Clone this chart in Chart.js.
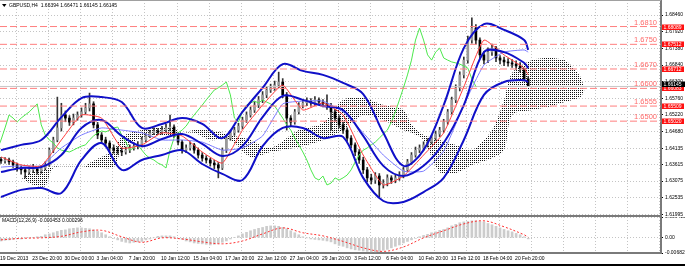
<!DOCTYPE html>
<html><head><meta charset="utf-8">
<script src="https://cdn.jsdelivr.net/npm/chart.js@4.4.1/dist/chart.umd.min.js"></script>
<style>
html,body{margin:0;padding:0;background:#fff;width:685px;height:266px;overflow:hidden;position:relative;}
#main{position:absolute;left:0;top:0;}
#macd{position:absolute;left:0;top:217px;}
#bot{position:absolute;left:0;top:264px;width:685px;height:2px;background:#000;}
#topl{position:absolute;left:0;top:0;width:661px;height:1px;background:#a0a0a0;}
</style></head><body>
<canvas id="main" width="685" height="217"></canvas>
<canvas id="macd" width="685" height="49"></canvas>
<div id="topl"></div><div id="bot"></div>
<script>
// ---------- DATA ----------
const titleText = 'GBPUSD,H4  1.66394 1.66471 1.66145 1.66145';
const macdTitle = 'MACD(12,26,9) -0.000453 0.000296';
const tickLabels = ['19 Dec 2013','23 Dec 20:00','30 Dec 00:00','3 Jan 04:00','7 Jan 20:00','10 Jan 12:00','15 Jan 04:00','17 Jan 20:00','22 Jan 12:00','27 Jan 04:00','29 Jan 20:00','3 Feb 12:00','6 Feb 04:00','10 Feb 20:00','13 Feb 12:00','18 Feb 04:00','20 Feb 20:00'];
const priceTicks = [1.68460,1.67920,1.67380,1.66840,1.66300,1.65760,1.65220,1.64680,1.64135,1.63615,1.63075,1.62535,1.61995];
const macdTicks = [0.009413,0,-0.006825];
const levels = [1.68089,1.67512,1.66712,1.66083,1.65509,1.65020];
const levelText = ['1.6810','1.6750','1.6670','1.6600','1.6555','1.6500'];
const bidPrice = 1.66145;
const firstOpen = 1.6378;

const close = [1.6373,1.6376,1.6370,1.6360,1.6350,1.6344,1.6337,1.6344,1.6347,1.6340,
1.6350,1.6360,1.6408,1.6441,1.6480,1.6522,1.6512,1.6499,1.6512,1.6522,
1.6532,1.6545,1.6558,1.6490,1.6457,1.6441,1.6431,1.6415,1.6408,1.6405,
1.6402,1.6408,1.6415,1.6421,1.6425,1.6441,1.6454,1.6464,1.6470,1.6467,
1.6473,1.6480,1.6483,1.6457,1.6434,1.6408,1.6415,1.6425,1.6408,1.6392,
1.6382,1.6376,1.6366,1.6360,1.6350,1.6408,1.6447,1.6464,1.6473,1.6486,
1.6506,1.6522,1.6538,1.6554,1.6571,1.6587,1.6603,1.6610,1.6619,1.6629,
1.6587,1.6512,1.6499,1.6532,1.6554,1.6561,1.6567,1.6561,1.6571,1.6564,
1.6558,1.6551,1.6532,1.6512,1.6490,1.6473,1.6447,1.6425,1.6402,1.6376,
1.6344,1.6318,1.6311,1.6324,1.6295,1.6301,1.6318,1.6311,1.6318,1.6327,
1.6344,1.6370,1.6392,1.6408,1.6415,1.6425,1.6434,1.6447,1.6460,1.6473,
1.6499,1.6532,1.6571,1.6610,1.6652,1.6700,1.6765,1.6804,1.6765,1.6717,
1.6700,1.6726,1.6739,1.6707,1.6700,1.6694,1.6691,1.6687,1.6681,1.6674,
1.6639,1.66145];
const high = [1.6385,1.6384,1.6382,1.6376,1.6366,1.6356,1.6352,1.6355,1.6362,1.6352,
1.6358,1.6370,1.6415,1.6450,1.6580,1.6560,1.6535,1.6520,1.6525,1.6532,
1.6545,1.6560,1.6593,1.6565,1.6498,1.6465,1.6450,1.6438,1.6425,1.6418,
1.6415,1.6418,1.6425,1.6432,1.6436,1.6450,1.6462,1.6472,1.6480,1.6478,
1.6485,1.6492,1.6522,1.6490,1.6462,1.6440,1.6425,1.6435,1.6430,1.6415,
1.6400,1.6390,1.6382,1.6375,1.6368,1.6415,1.6455,1.6472,1.6482,1.6495,
1.6515,1.6532,1.6548,1.6565,1.6582,1.6598,1.6615,1.6622,1.6632,1.6661,
1.6640,1.6595,1.6520,1.6540,1.6562,1.6572,1.6578,1.6575,1.6582,1.6578,
1.6572,1.6587,1.6560,1.6540,1.6520,1.6498,1.6480,1.6455,1.6432,1.6410,
1.6385,1.6352,1.6330,1.6335,1.6332,1.6312,1.6328,1.6325,1.6328,1.6338,
1.6352,1.6378,1.6400,1.6418,1.6425,1.6435,1.6445,1.6456,1.6470,1.6482,
1.6508,1.6540,1.6580,1.6620,1.6662,1.6710,1.6778,1.6837,1.6815,1.6772,
1.6728,1.6740,1.6752,1.6745,1.6715,1.6710,1.6705,1.6702,1.6698,1.6692,
1.6668,1.66471];
const low = [1.6365,1.6366,1.6362,1.6352,1.6340,1.6330,1.6318,1.6330,1.6335,1.6330,
1.6333,1.6344,1.6355,1.6400,1.6435,1.6470,1.6500,1.6488,1.6490,1.6505,
1.6515,1.6525,1.6535,1.6480,1.6445,1.6430,1.6420,1.6405,1.6398,1.6395,
1.6390,1.6395,1.6400,1.6408,1.6412,1.6418,1.6435,1.6448,1.6458,1.6458,
1.6460,1.6466,1.6470,1.6448,1.6425,1.6398,1.6400,1.6408,1.6398,1.6382,
1.6372,1.6366,1.6356,1.6348,1.6318,1.6345,1.6400,1.6440,1.6456,1.6466,
1.6478,1.6498,1.6515,1.6530,1.6546,1.6562,1.6578,1.6595,1.6602,1.6610,
1.6578,1.6473,1.6485,1.6492,1.6525,1.6545,1.6552,1.6550,1.6552,1.6555,
1.6548,1.6540,1.6473,1.6502,1.6480,1.6462,1.6436,1.6415,1.6390,1.6365,
1.6332,1.6305,1.6298,1.6300,1.6256,1.6285,1.6292,1.6300,1.6302,1.6310,
1.6318,1.6338,1.6362,1.6385,1.6400,1.6408,1.6418,1.6428,1.6440,1.6452,
1.6466,1.6492,1.6525,1.6562,1.6600,1.6642,1.6690,1.6755,1.6752,1.6705,
1.6688,1.6692,1.6715,1.6695,1.6688,1.6682,1.6680,1.6676,1.6670,1.6662,
1.6632,1.66145];

// indicator lines sampled at these bar positions
const lineIdx = [0,5,10,15,20,25,30,35,40,45,50,55,60,65,70,75,80,85,90,95,100,105,110,115,120,125,130,131];
const bbUpper = [1.6408,1.6425,1.6441,1.6515,1.6577,1.6580,1.6564,1.6480,1.6493,1.6512,1.6493,1.6447,1.6532,1.6610,1.6687,1.6665,1.6652,1.6626,1.6590,1.6464,1.6357,1.6408,1.6554,1.6739,1.6817,1.6798,1.6765,1.6733];
const bbMiddle = [1.6337,1.6350,1.6353,1.6392,1.6480,1.6506,1.6454,1.6421,1.6444,1.6460,1.6428,1.6389,1.6421,1.6515,1.6584,1.6571,1.6551,1.6538,1.6454,1.6357,1.6324,1.6357,1.6431,1.6554,1.6726,1.6726,1.6691,1.6674];
const bbLower = [1.6256,1.6279,1.6285,1.6269,1.6376,1.6431,1.6344,1.6376,1.6392,1.6408,1.6363,1.6331,1.6311,1.6421,1.6480,1.6480,1.6447,1.6451,1.6318,1.6243,1.6240,1.6272,1.6318,1.6441,1.6587,1.6629,1.6635,1.6629];
const kijun = [1.6353,1.6357,1.6357,1.6415,1.6457,1.6480,1.6473,1.6464,1.6441,1.6441,1.6434,1.6408,1.6415,1.6454,1.6558,1.6567,1.6567,1.6532,1.6464,1.6392,1.6340,1.6340,1.6405,1.6554,1.6684,1.6726,1.6733,1.6726];
const tenkan = [1.6386,1.6360,1.6357,1.6441,1.6522,1.6512,1.6415,1.6425,1.6464,1.6454,1.6402,1.6366,1.6473,1.6554,1.6619,1.6538,1.6561,1.6522,1.6392,1.6295,1.6324,1.6392,1.6464,1.6613,1.6765,1.6717,1.6674,1.6652];

// Ichimoku cloud spans
const cloudIdx = [5,8,11,13,21,22,28,30,35,42,45,48,52,57,62,67,74,80,85,90,95,100,102,105,109,113,117,122,125,127,132,136,140,142,144,145];
const spanA = [1.6318,1.6337,1.6344,1.6355,1.6355,1.6366,1.6408,1.6451,1.6473,1.6483,1.6464,1.6473,1.6473,1.6457,1.6441,1.6415,1.6473,1.6496,1.6571,1.6577,1.6554,1.6538,1.6490,1.6457,1.6441,1.6425,1.6408,1.6473,1.6571,1.6658,1.6700,1.6707,1.6700,1.6678,1.6645,1.6603];
const spanB = [1.6318,1.6295,1.6292,1.6350,1.6350,1.6353,1.6353,1.6408,1.6447,1.6457,1.6464,1.6464,1.6441,1.6441,1.6386,1.6402,1.6418,1.6441,1.6473,1.6522,1.6506,1.6473,1.6464,1.6441,1.6337,1.6334,1.6360,1.6382,1.6408,1.6522,1.6538,1.6548,1.6564,1.6571,1.6580,1.6603];
const chikouShift = 13;

// MACD
const macdMain = [-0.0014,-0.0011,-0.0009,-0.0007,-0.0005,-0.0005,-0.0002,0.0000,0.0002,0.0005,
0.0007,0.0014,0.0018,0.0023,0.0029,0.0034,0.0036,0.0041,0.0043,0.0045,
0.0045,0.0043,0.0041,0.0036,0.0029,0.0023,0.0014,0.0005,-0.0002,-0.0009,
-0.0016,-0.0020,-0.0023,-0.0020,-0.0018,-0.0016,-0.0009,-0.0005,0.0000,0.0007,
0.0009,0.0009,0.0009,0.0005,-0.0002,-0.0007,-0.0014,-0.0018,-0.0023,-0.0025,
-0.0027,-0.0029,-0.0032,-0.0029,-0.0025,-0.0020,-0.0014,-0.0005,0.0002,0.0009,
0.0018,0.0025,0.0032,0.0038,0.0043,0.0047,0.0052,0.0054,0.0054,0.0052,
0.0047,0.0041,0.0032,0.0023,0.0014,0.0005,0.0000,-0.0005,-0.0007,-0.0009,
-0.0011,-0.0014,-0.0018,-0.0027,-0.0034,-0.0038,-0.0045,-0.0050,-0.0054,-0.0056,
-0.0059,-0.0061,-0.0063,-0.0063,-0.0061,-0.0056,-0.0052,-0.0045,-0.0038,-0.0032,
-0.0023,-0.0016,-0.0009,-0.0002,0.0005,0.0011,0.0016,0.0023,0.0027,0.0034,
0.0038,0.0045,0.0054,0.0061,0.0068,0.0072,0.0074,0.0077,0.0077,0.0074,
0.0072,0.0065,0.0059,0.0052,0.0045,0.0038,0.0032,0.0027,0.0020,0.0014,
0.0005,-0.000453];
const macdSignal = [-0.0009,-0.0002,0,0.0007,0.0027,0.0034,0.0005,-0.0020,0,-0.0005,-0.0018,-0.0027,-0.0014,0.0018,0.0045,0.0023,0.0009,-0.0016,-0.0045,-0.0061,-0.0041,0,0.0032,0.0063,0.0077,0.0050,0.0014,0.000296];

// ---------- LAYOUT ----------
const X_MIN = -0.25, X_MAX = 164;
const gridPos = Array.from({length:21},(_,k)=>k*8-0.25);
const FONT = '"Liberation Sans", Arial, sans-serif';
Chart.defaults.font.family = FONT;
Chart.defaults.color = '#000';

const open = close.map((c,i)=> i===0 ? firstOpen : close[i-1]);
const pts = (xs, ys) => xs.map((x,k)=>({x, y:ys[k]}));

const mainCanvas = document.getElementById('main');
const dotC = document.createElement('canvas'); dotC.width=2; dotC.height=2;
const dg = dotC.getContext('2d'); dg.fillStyle='#111'; dg.fillRect(0,0,1,1);
const dotPattern = mainCanvas.getContext('2d').createPattern(dotC,'repeat');

const gridColor = '#c4c4c4';
function xAxis(showLabels){
  return {
    type:'linear', min:X_MIN, max:X_MAX, offset:false, position:'bottom',
    afterBuildTicks: s => { s.ticks = gridPos.map(v=>({value:v})); },
    ticks:{display:showLabels, autoSkip:false, maxRotation:0, minRotation:0, align:'start', padding:3,
      font:{size:5}, color:'#000', callback:(v,i)=> tickLabels[i] || ''},
    grid:{color:gridColor, lineWidth:1, drawTicks:false, tickBorderDash:[]},
    border:{display:true, color:'#7a7a7a', width:2, dash:[1,2]},
    afterFit: s => { s.height = showLabels ? 13 : 1; s.paddingLeft=0; s.paddingRight=0; }
  };
}

const levelDatasets = levels.map(v=>({
  type:'line', data:[{x:X_MIN,y:v},{x:X_MAX,y:v}], borderColor:'#ff7f7f', borderWidth:1,
  borderDash:[7,3], pointRadius:0, order:1
}));

const lineDs = (ys, color, width, order, tension) => ({
  type:'line', data:pts(lineIdx, ys), borderColor:color, borderWidth:width, pointRadius:0,
  tension:tension, fill:false, order
});

const decoMain = {
  id:'decoMain',
  afterDraw(chart){
    const {ctx, scales:{y}} = chart;
    ctx.save();
    ctx.font = '7.5px '+FONT; ctx.textAlign='right'; ctx.textBaseline='alphabetic';
    ctx.fillStyle='#ff6a6a';
    levels.forEach((v,k)=>{ ctx.fillText(levelText[k], 657, y.getPixelForValue(v)-2); });
    ctx.font = '5px '+FONT; ctx.textAlign='left'; ctx.textBaseline='middle';
    levels.forEach(v=>{
      const py = Math.round(y.getPixelForValue(v));
      ctx.fillStyle='#ff1010'; ctx.fillRect(662, py-2.5, 22, 5.5);
      ctx.fillStyle='#fff'; ctx.fillText(v.toFixed(5), 663.5, py+0.3);
    });
    const pb = Math.round(y.getPixelForValue(bidPrice))-2;
    ctx.fillStyle='#000'; ctx.fillRect(662, pb-2.5, 23, 5.5);
    ctx.fillStyle='#fff'; ctx.fillText(bidPrice.toFixed(5), 663.5, pb+0.3);
    ctx.fillStyle='#000'; ctx.fillText(titleText, 9, 5.5);
    ctx.beginPath(); ctx.moveTo(2,4); ctx.lineTo(6.5,4); ctx.lineTo(4.25,7); ctx.closePath(); ctx.fill();
    ctx.restore();
  }
};

new Chart(mainCanvas, {
  type:'bar',
  data:{ datasets:[
    {type:'line', data:pts(cloudIdx, spanA), borderWidth:0, borderColor:'rgba(0,0,0,0)', pointRadius:0, fill:'+1', backgroundColor:dotPattern, tension:0.3, order:20},
    {type:'line', data:pts(cloudIdx, spanB), borderWidth:0, borderColor:'rgba(0,0,0,0)', pointRadius:0, fill:false, tension:0.3, order:19},
    {type:'bar', data:close.map((c,i)=>({x:i, y:[low[i], high[i]]})), backgroundColor:'#333', barThickness:1, grouped:false, order:15},
    {type:'bar', data:close.map((c,i)=>({x:i, y:[open[i], c]})), grouped:false, barThickness:2, borderSkipped:false,
      backgroundColor:close.map((c,i)=> c>=open[i] ? '#9a9a9a' : '#000000'), borderWidth:0, order:14},
    {type:'line', data:close.map((c,i)=>({x:i-chikouShift, y:c})), borderColor:'#4ce84c', borderWidth:1, pointRadius:0, tension:0, fill:false, order:10},
    {type:'line', data:[{x:X_MIN,y:bidPrice},{x:X_MAX,y:bidPrice}], borderColor:'#c8c8c8', borderWidth:1, pointRadius:0, order:12},
    lineDs(kijun, '#7a7aff', 1, 9, 0.15),
    lineDs(tenkan, '#ff3a3a', 1, 8, 0.15),
    lineDs(bbUpper, '#1010c8', 2, 5, 0.35),
    lineDs(bbMiddle, '#1010c8', 2, 5, 0.35),
    lineDs(bbLower, '#1010c8', 2, 5, 0.35),
    ...levelDatasets
  ]},
  options:{
    responsive:false, animation:false, events:[], devicePixelRatio:1,
    layout:{padding:0},
    plugins:{legend:{display:false}, tooltip:{enabled:false}, filler:{drawTime:'beforeDatasetsDraw'}},
    scales:{
      x: xAxis(false),
      y:{ position:'right', min:1.61943, max:1.6895,
        afterBuildTicks: s => { s.ticks = priceTicks.map(v=>({value:v})); },
        ticks:{font:{size:5}, color:'#000', padding:2, autoSkip:false, callback:v=>v.toFixed(5)},
        grid:{color:gridColor, drawTicks:true, tickLength:2, tickColor:'#000', tickBorderDash:[]},
        border:{display:true, color:'#7a7a7a', width:2, dash:[1,2]},
        afterFit: s => { s.width = 24; s.paddingTop=0; s.paddingBottom=0; }
      }
    }
  },
  plugins:[decoMain]
});

const decoMacd = {
  id:'decoMacd',
  afterDraw(chart){
    const {ctx} = chart;
    ctx.save();
    ctx.font='5px '+FONT; ctx.fillStyle='#000'; ctx.textBaseline='middle'; ctx.textAlign='left';
    ctx.fillText(macdTitle, 2, 4);
    ctx.restore();
  }
};

new Chart(document.getElementById('macd'), {
  type:'bar',
  data:{ datasets:[
    {type:'line', data:pts(lineIdx, macdSignal), borderColor:'#ff3030', borderWidth:1, borderDash:[2,2], pointRadius:0, tension:0.35, fill:false, order:1},
    {type:'bar', data:macdMain.map((v,i)=>({x:i, y:v})), backgroundColor:'#cccccc', barThickness:2, grouped:false, order:5}
  ]},
  options:{
    responsive:false, animation:false, events:[], devicePixelRatio:1,
    layout:{padding:0},
    plugins:{legend:{display:false}, tooltip:{enabled:false}},
    scales:{
      x: xAxis(true),
      y:{ position:'right', min:-0.006825, max:0.009413,
        afterBuildTicks: s => { s.ticks = macdTicks.map(v=>({value:v})); },
        ticks:{font:{size:5}, color:'#000', padding:2, autoSkip:false, callback:v=> v===0 ? '0.00' : v.toFixed(6)},
        grid:{color:gridColor, drawTicks:true, tickLength:2, tickColor:'#000', tickBorderDash:[]},
        border:{display:true, color:'#7a7a7a', width:2, dash:[1,2]},
        afterFit: s => { s.width = 24; s.paddingTop=0; s.paddingBottom=0; }
      }
    }
  },
  plugins:[decoMacd]
});
</script>
</body></html>
